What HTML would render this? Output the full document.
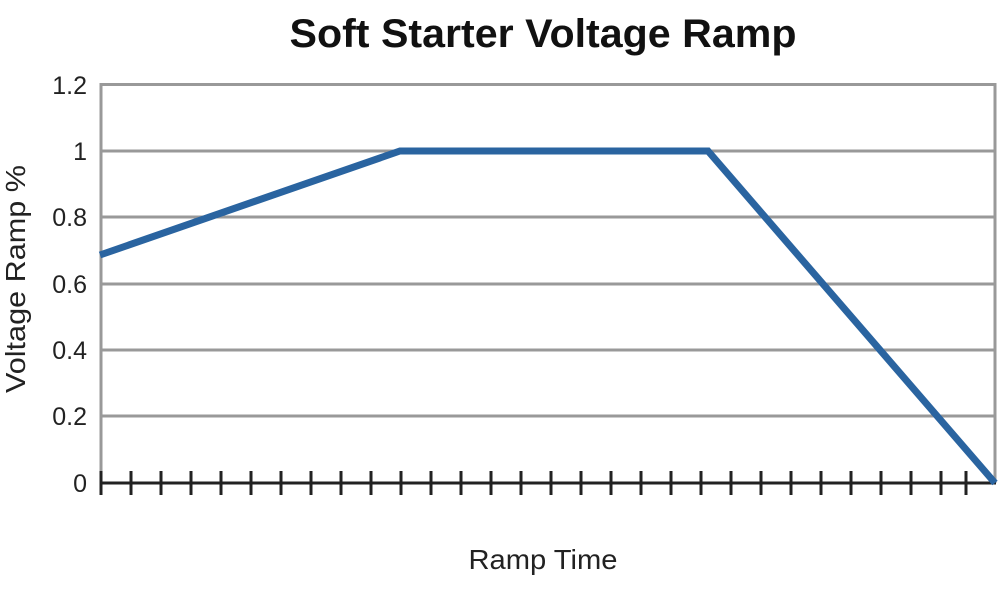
<!DOCTYPE html>
<html><head><style>body{margin:0;background:#fff}</style></head><body>
<svg width="1000" height="592" xmlns="http://www.w3.org/2000/svg" font-family="Liberation Sans, sans-serif">
<rect width="1000" height="592" fill="#fff"/>
<text x="543" y="47" text-anchor="middle" font-size="40" font-weight="bold" fill="#111" textLength="507" lengthAdjust="spacingAndGlyphs">Soft Starter Voltage Ramp</text>
<g stroke="#999" stroke-width="3" fill="none">
<line x1="101" y1="84.5" x2="996" y2="84.5"/>
<line x1="101" y1="151" x2="996" y2="151"/>
<line x1="101" y1="217" x2="996" y2="217"/>
<line x1="101" y1="284" x2="996" y2="284"/>
<line x1="101" y1="350" x2="996" y2="350"/>
<line x1="101" y1="416" x2="996" y2="416"/>
<line x1="101" y1="83" x2="101" y2="483"/>
<line x1="995" y1="83" x2="995" y2="483"/>
</g>
<g font-size="25" fill="#222" text-anchor="end">
<text x="87" y="94">1.2</text><text x="87" y="160">1</text><text x="87" y="226">0.8</text>
<text x="87" y="293">0.6</text><text x="87" y="359">0.4</text><text x="87" y="425">0.2</text><text x="87" y="492">0</text>
</g>
<line x1="101" y1="483" x2="996" y2="483" stroke="#222" stroke-width="3"/>
<path stroke="#222" stroke-width="3" d="M101 471V495M131 471V495M161 471V495M191 471V495M221 471V495M251 471V495M281 471V495M311 471V495M341 471V495M371 471V495M401 471V495M431 471V495M461 471V495M491 471V495M521 471V495M551 471V495M581 471V495M611 471V495M641 471V495M671 471V495M701 471V495M731 471V495M761 471V495M791 471V495M821 471V495M851 471V495M881 471V495M911 471V495M941 471V495M966 471V495"/>
<polyline points="100,255 400,151 708,151 995,483" fill="none" stroke="#2a64a0" stroke-width="7" stroke-linejoin="miter"/>
<text transform="translate(25,279) rotate(-90)" text-anchor="middle" font-size="28" fill="#222" textLength="228" lengthAdjust="spacingAndGlyphs">Voltage Ramp %</text>
<text x="543" y="569" text-anchor="middle" font-size="28" fill="#222" textLength="149" lengthAdjust="spacingAndGlyphs">Ramp Time</text>
</svg>
</body></html>
